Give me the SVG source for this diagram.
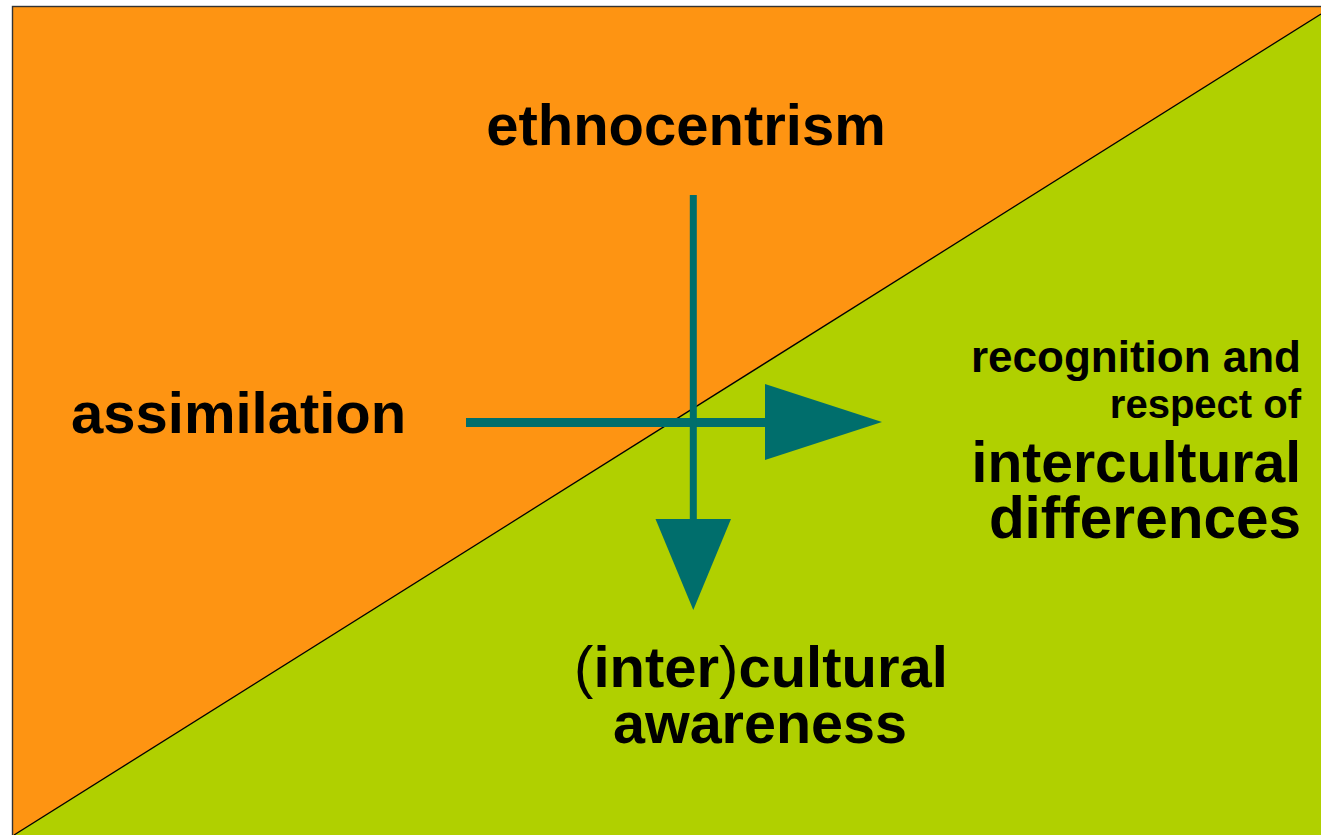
<svg xmlns="http://www.w3.org/2000/svg" width="1321" height="835" viewBox="0 0 1321 835">
  <style>
    .lbl { font-family: "Liberation Sans", Arial, sans-serif; font-weight: bold; fill: #000; }
    .arrow { fill: #006E6C; }
  </style>
  <rect x="0" y="0" width="1321" height="835" fill="#FFFFFF"/>
  <!-- background field split by the diagonal -->
  <g id="field">
    <rect x="12.5" y="6.5" width="1320" height="840" fill="#FE9412" stroke="#333" stroke-width="1.4"/>
    <polygon points="14,835 1321,14 1321,835" fill="#B0D000"/>
    <line x1="14" y1="835" x2="1321" y2="14" stroke="#000" stroke-width="1.3"/>
  </g>
  <!-- arrows -->
  <g id="connectors">
    <rect class="arrow" x="466" y="418" width="300" height="9"/>
    <polygon class="arrow" points="765,384 882,422 765,460"/>
    <rect class="arrow" x="689.8" y="195" width="7" height="325"/>
    <polygon class="arrow" points="655.5,519 731,519 693.3,610"/>
  </g>
  <g id="ethnocentrism">
    <text class="lbl" x="686" y="145" font-size="58" text-anchor="middle">ethnocentrism</text>
  </g>
  <g id="assimilation">
    <text class="lbl" x="71" y="432.5" font-size="58">assimilation</text>
  </g>
  <g id="recognition">
    <text class="lbl" text-anchor="end" x="1301" y="371.5" font-size="44">recognition and </text>
    <text class="lbl" text-anchor="end" x="1301" y="418" font-size="40">respect of</text>
    <text class="lbl" text-anchor="end" x="1301" y="482" font-size="57">intercultural</text>
    <text class="lbl" text-anchor="end" x="1301" y="538" font-size="58.5">differences</text>
  </g>
  <g id="awareness">
    <text class="lbl" x="761" y="687" font-size="58" text-anchor="middle"><tspan font-weight="normal">(</tspan>inter<tspan font-weight="normal">)</tspan>cultural</text>
    <text class="lbl" x="760" y="743" font-size="57.5" text-anchor="middle">awareness</text>
  </g>
</svg>
